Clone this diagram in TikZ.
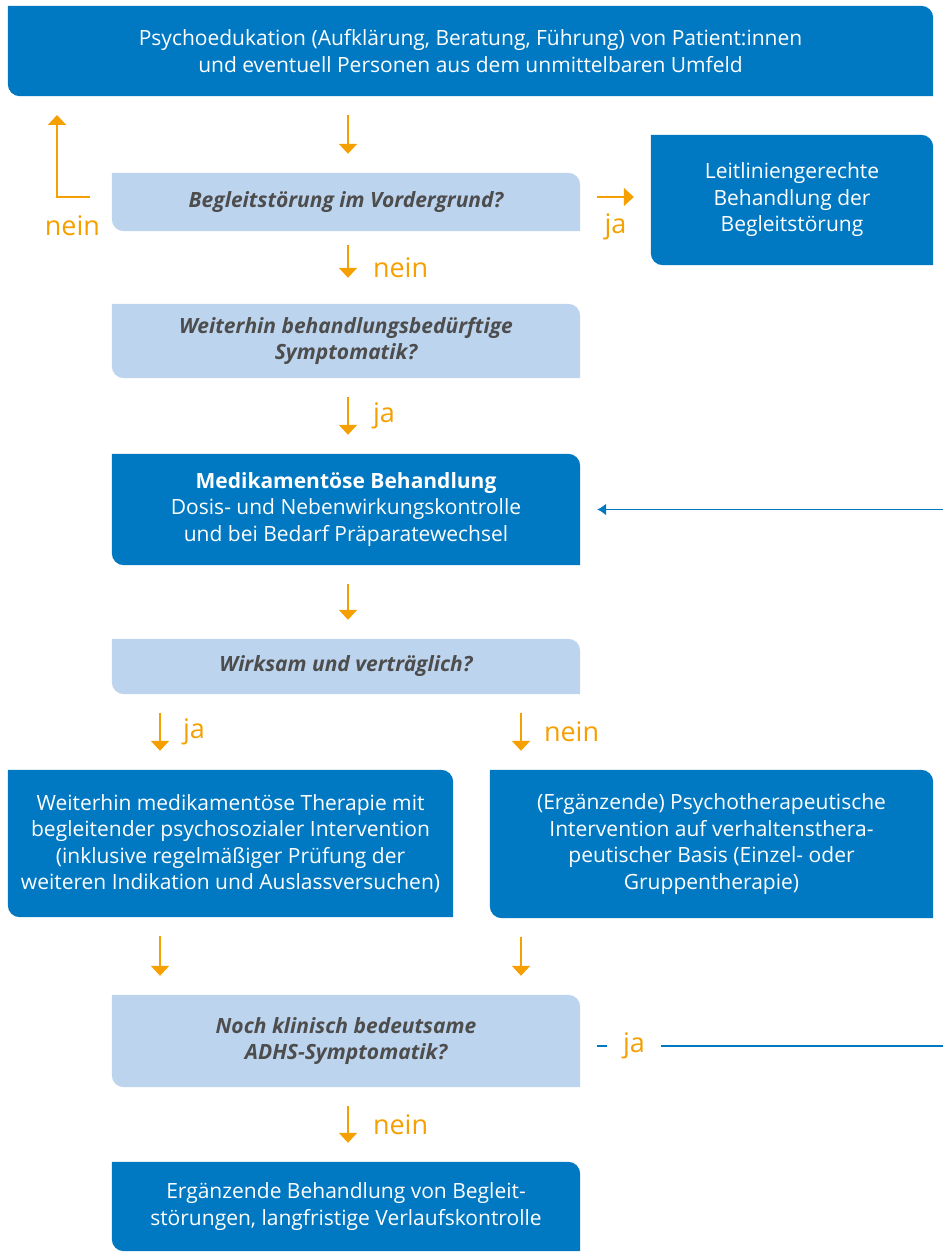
\documentclass[tikz,border=0pt]{standalone}
\usepackage{fontspec}
\setmainfont{Open Sans}
\usepackage{xcolor}
\usetikzlibrary{positioning,arrows.meta,backgrounds}

\definecolor{dblue}{HTML}{0079C2}
\definecolor{lblue}{HTML}{BDD4EE}
\definecolor{flow}{HTML}{F5A000}
\definecolor{ink}{HTML}{4D4D4D}

\begin{document}
\begin{tikzpicture}[x=1pt, y=-1pt, >={Triangle[width=18pt,length=10pt]}]
    \tikzstyle{box} = [rectangle, inner sep=0pt, align=center, text=white, font=\fontsize{21}{26.5}\selectfont]
    \tikzstyle{ask} = [box, text=ink, font=\fontsize{21}{26.5}\selectfont\bfseries\itshape]
    \tikzstyle{arrow} = [->, flow, line width=2pt, shorten <=19pt, shorten >=19pt]
    \tikzstyle{lab} = [text=flow, font=\fontsize{27}{30}\selectfont, inner sep=0pt]
    \tikzstyle{back} = [dblue, line width=1.5pt]

    \useasboundingbox (0,0) rectangle (942,1252);

    % boxes
    \node[box, minimum width=925pt, minimum height=90pt] (edu) at (470.5,51) {Psychoedukation (Aufklärung, Beratung, Führung) von Patient:innen\\und eventuell Personen aus dem unmittelbaren Umfeld};
    \node[ask, minimum width=468pt, minimum height=58pt] (focus) at (346,202) {Begleitstörung im Vordergrund?};
    \node[box, minimum width=282pt, minimum height=130pt] (side) at (792,200) {Leitliniengerechte\\Behandlung der\\Begleitstörung};
    \node[ask, minimum width=468pt, minimum height=74pt] (need) at (346,341) {Weiterhin behandlungsbedürftige\\Symptomatik?};
    \node[box, minimum width=468pt, minimum height=111pt] (med) at (346,509.5) {{\bfseries Medikamentöse Behandlung}\\Dosis- und Nebenwirkungskontrolle\\und bei Bedarf Präparatewechsel};
    \node[ask, minimum width=468pt, minimum height=55pt] (works) at (346,666.5) {Wirksam und verträglich?};
    \node[box, minimum width=445pt, minimum height=147pt] (keep) at (230.5,843.5) {Weiterhin medikamentöse Therapie mit\\begleitender psychosozialer Intervention\\(inklusive regelmäßiger Prüfung der\\weiteren Indikation und Auslassversuchen)};
    \node[box, minimum width=443pt, minimum height=148pt] (psych) at (711.5,844) {(Ergänzende) Psychotherapeutische\\Intervention auf verhaltensthera-\\peutischer Basis (Einzel- oder\\Gruppentherapie)};
    \node[ask, minimum width=468pt, minimum height=92pt] (still) at (346,1041) {Noch klinisch bedeutsame\\ADHS-Symptomatik?};
    \node[box, minimum width=468pt, minimum height=89pt] (final) at (346,1206.5) {Ergänzende Behandlung von Begleit-\\störungen, langfristige Verlaufskontrolle};

    \begin{scope}[on background layer]
        \foreach \n/\c in {edu/dblue, focus/lblue, side/dblue, need/lblue, med/dblue, works/lblue, keep/dblue, psych/dblue, still/lblue, final/dblue}
            \fill[\c] (\n.north west) -- ([xshift=-12pt]\n.north east) arc[start angle=90, end angle=0, radius=12pt] -- (\n.south east) -- ([xshift=12pt]\n.south west) arc[start angle=270, end angle=180, radius=12pt] -- cycle;
    \end{scope}

    % columns of the arrows
    \coordinate (mid) at (348,0);
    \coordinate (colL) at (160,0);
    \coordinate (colR) at (521,0);
    \coordinate (rim) at (944,0);
    \coordinate (loop) at (57,115);
    \coordinate (fork) at ([yshift=5pt]focus.east);
    \coordinate (tail) at ([yshift=5pt]focus.west);
    \coordinate (again) at ([yshift=-5pt]still.east);

    \draw[arrow] (edu.south -| mid) -- (focus.north -| mid);
    \draw[arrow, shorten <=22pt, shorten >=0pt] (tail) -| node[lab, pos=0.36, below=18pt] (nein1) {nein} (loop);
    \draw[arrow, shorten <=17pt, shorten >=17pt] (fork) -- node[lab, below=16pt] (ja1) {ja} (fork -| side.west);
    \draw[arrow, shorten <=14pt, shorten >=26pt] (focus.south -| mid) -- node[lab, right=24pt] (nein2) {nein} (need.north -| mid);
    \draw[arrow] (need.south -| mid) -- node[lab, right=24pt] (ja2) {ja} (med.north -| mid);
    \draw[arrow] (med.south -| mid) -- (works.north -| mid);
    \draw[arrow] (works.south -| colL) -- node[lab, right=22pt] (ja3) {ja} (keep.north -| colL);
    \draw[arrow] (works.south -| colR) -- node[lab, right=22pt] (nein3) {nein} (psych.north -| colR);
    \draw[arrow] (keep.south -| colL) -- (still.north -| colL);
    \draw[arrow] (psych.south -| colR) -- (still.north -| colR);
    \draw[arrow] (still.south -| mid) -- node[lab, right=24pt] (nein4) {nein} (final.north -| mid);

    % back to the medication
    \draw[back, -{Latex[length=9pt,width=12pt]}, shorten <=17pt, shorten >=17pt] (again) -- node[lab, fill=white, inner xsep=16.5pt, pos=0.148] (ja4) {ja} (again -| rim) |- (med.east);
\end{tikzpicture}
\end{document}
